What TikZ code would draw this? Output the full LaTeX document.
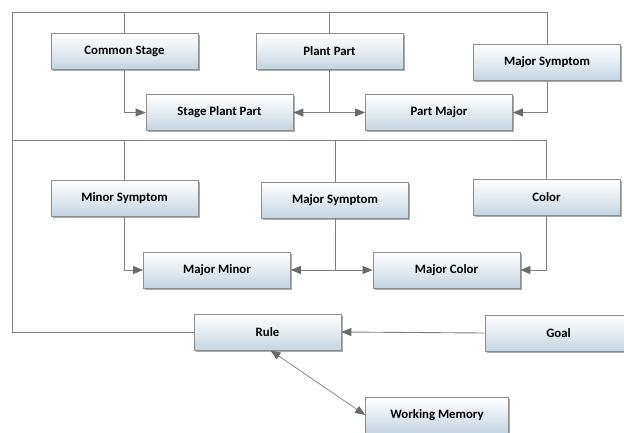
\documentclass[tikz,border=0pt]{standalone}
\usepackage{fontspec}
\setmainfont{Carlito}
\usetikzlibrary{arrows.meta,shadows}

\definecolor{boxblue}{HTML}{C3D4E1}
\definecolor{boxedge}{HTML}{8E8E8E}
\definecolor{linkgray}{HTML}{808080}
\definecolor{tipgray}{HTML}{6A6A6A}

\tikzset{
  rulebox/.style={draw=boxedge, line width=0.8pt,
    minimum width=147pt, minimum height=36pt,
    top color=white, bottom color=boxblue, middle color=white!55!boxblue,
    drop shadow={shadow xshift=1.8pt, shadow yshift=-1.8pt, opacity=0.55, fill=black!60},
    font=\bfseries\fontsize{12.8}{15}\selectfont},
  link/.style={draw=linkgray, line width=0.9pt},
  tip/.style={-{Triangle[length=10pt,width=8pt,color=tipgray]}},
  bothtip/.style={{Triangle[length=10pt,width=8pt,color=tipgray]}-{Triangle[length=10pt,width=8pt,color=tipgray]}}
}

\begin{document}
\begin{tikzpicture}[x=1pt,y=-1pt]
\clip (0,0) rectangle (624,432);
\fill[white] (0,0) rectangle (624,432);

% first group
\node[rulebox] (common) at (124.5,51.5) {Common Stage};
\node[rulebox] (plant) at (329.5,51.5) {Plant Part};
\node[rulebox] (majtop) at (547,62.5) {Major Symptom};
\node[rulebox] (stage) at (219.5,112.5) {Stage Plant Part};
\node[rulebox] (partmaj) at (439,112.5) {Part Major};

% second group
\node[rulebox] (minor) at (124.5,198) {Minor Symptom};
\node[rulebox] (majmid) at (335,200) {Major Symptom};
\node[rulebox] (color) at (546.5,197.5) {Color};
\node[rulebox] (majminor) at (217,270) {Major Minor};
\node[rulebox] (majcolor) at (446.5,270) {Major Color};

% rule, goal, memory
\node[rulebox] (rule) at (267.5,332) {Rule};
\node[rulebox] (goal) at (558.5,333) {Goal};
\node[rulebox, minimum width=143pt] (wm) at (437,415) {Working Memory};

\coordinate (frametop) at (12,12);
\coordinate (framemid) at (12,140.5);

% frame lines
\draw[link] (rule.west) -| (frametop) -| (majtop.north);
\draw[link] (common.north) -- (common.north |- frametop);
\draw[link] (plant.north) -- (plant.north |- frametop);
\draw[link] (framemid) -| (color.north);
\draw[link] (minor.north) -- (minor.north |- framemid);
\draw[link] (majmid.north) -- (majmid.north |- framemid);

% arrows
\draw[link,tip] (common.south) |- (stage.west);
\draw[link,tip] (plant.south) |- (stage.east);
\draw[link,tip] (plant.south) |- (partmaj.west);
\draw[link,tip] (majtop.south) |- (partmaj.east);
\draw[link,tip] (minor.south) |- (majminor.west);
\draw[link,tip] (majmid.south) |- (majminor.east);
\draw[link,tip] (majmid.south) |- (majcolor.west);
\draw[link,tip] (color.south) |- (majcolor.east);
\draw[link,tip] (goal.west) -- (rule.east);
\draw[link,bothtip,line width=0.7pt] ([xshift=3pt]rule.south) -- (wm.west);
\end{tikzpicture}
\end{document}
